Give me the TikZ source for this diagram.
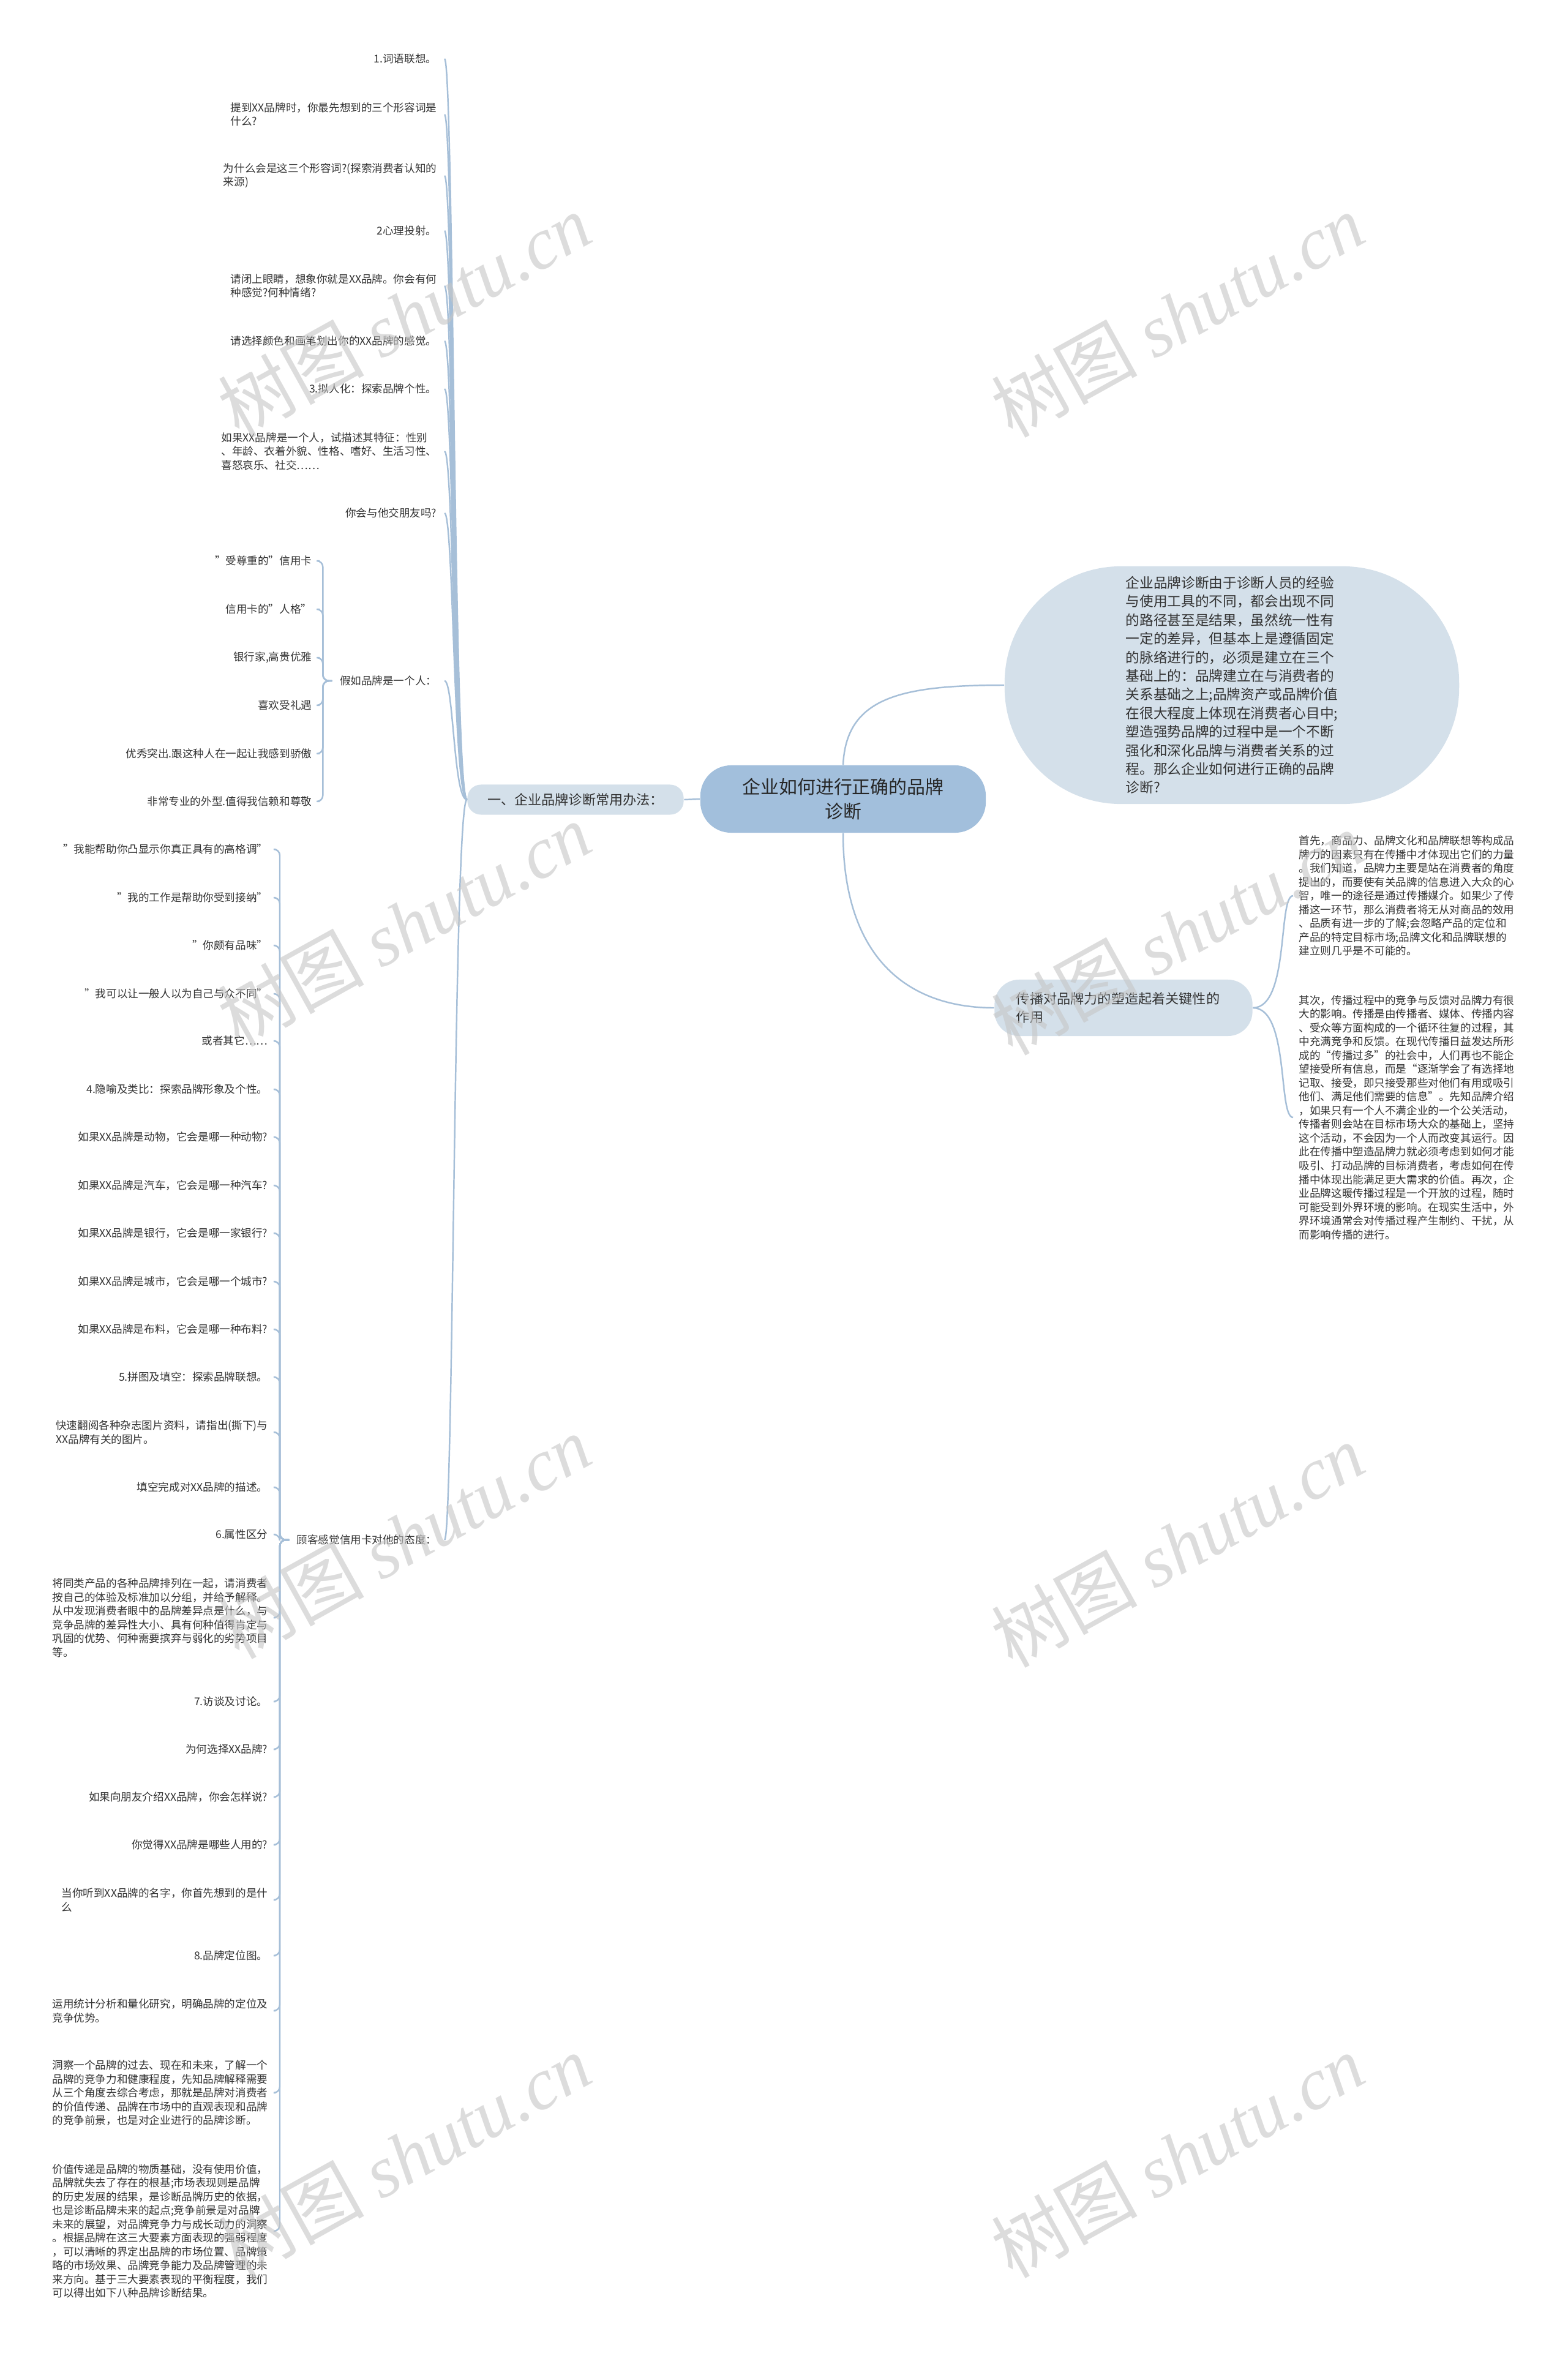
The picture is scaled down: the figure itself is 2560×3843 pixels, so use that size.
\documentclass[tikz,border=0pt]{standalone}
\usepackage{fontspec}
\setmainfont{Noto Sans CJK SC}
\newfontfamily\wmserif{Liberation Serif}

\definecolor{linkblue}{RGB}{166,191,216}
\definecolor{rootfill}{RGB}{162,191,220}
\definecolor{topicfill}{RGB}{212,224,234}
\definecolor{inkgray}{RGB}{51,51,51}

\newcommand{\leaffont}{\fontsize{5pt}{6.4pt}\selectfont}
\newcommand{\topicfont}{\fontsize{6.3pt}{8.5pt}\selectfont}
\newcommand{\bubblefont}{\fontsize{6.45pt}{8.65pt}\selectfont}
\newcommand{\rootfont}{\fontsize{8.5pt}{11.4pt}\selectfont}

\tikzset{
  link/.style={draw=linkblue, line width=0.7pt},
  leaf/.style={anchor=east, inner xsep=0.12cm, inner ysep=0.04cm, align=left, font=\leaffont, text=inkgray},
  note/.style={anchor=west, inner xsep=0.09cm, inner ysep=0.04cm, align=left, font=\leaffont, text=inkgray},
  topic/.style={fill=topicfill, rounded corners=0.22cm, inner sep=0pt, text=inkgray},
  wmark/.style={rotate=29, text=gray!45, opacity=0.6, font=\fontsize{34pt}{34pt}\selectfont}
}

\begin{document}
\begin{tikzpicture}[x=0.01cm, y=-0.01cm]
  \fill[white] (0,0) rectangle (2560,3843);
  \useasboundingbox (0,0) rectangle (2560,3843);

  % centre and main topics
  \node[fill=rootfill, rounded corners=0.5cm, minimum width=4.66cm, minimum height=1.1cm, align=center, font=\rootfont, text=black!85] (root) at (1377,1305) {企业如何进行正确的品牌\\诊断};
  \node[topic, minimum width=3.53cm, minimum height=0.49cm, font=\topicfont] (ways) at (940,1306) {一、企业品牌诊断常用办法：};
  \node[topic, rounded corners=1.9cm, minimum width=7.42cm, minimum height=3.88cm, align=left, font=\bubblefont] (intro) at (2012,1119) {企业品牌诊断由于诊断人员的经验\\与使用工具的不同，都会出现不同\\的路径甚至是结果，虽然统一性有\\一定的差异，但基本上是遵循固定\\的脉络进行的，必须是建立在三个\\基础上的：品牌建立在与消费者的\\关系基础之上;品牌资产或品牌价值\\在很大程度上体现在消费者心目中;\\塑造强势品牌的过程中是一个不断\\强化和深化品牌与消费者关系的过\\程。那么企业如何进行正确的品牌\\诊断?};
  \node[topic, rounded corners=0.4cm, minimum height=0.92cm, text width=3.5cm, inner xsep=0.355cm, align=left, font=\topicfont] (spread) at (1835,1646) {传播对品牌力的塑造起着关键性的\\作用};

  \draw[link] (root.west) -- (ways.east);
  \draw[link] (root.north) .. controls +(5,-110) and +(-170,0) .. (intro.west);
  \draw[link] (root.south) .. controls +(0,200) and +(-145,0) .. (spread.west);

  % methods
  \node[leaf] (w1) at (726,96) {1.词语联想。};
  \node[leaf] (w2) at (726,187) {提到XX品牌时，你最先想到的三个形容词是\\什么?};
  \node[leaf] (w3) at (726,287) {为什么会是这三个形容词?(探索消费者认知的\\来源)};
  \node[leaf] (w4) at (726,377) {2心理投射。};
  \node[leaf] (w5) at (726,467) {请闭上眼睛，想象你就是XX品牌。你会有何\\种感觉?何种情绪?};
  \node[leaf] (w6) at (726,557) {请选择颜色和画笔划出你的XX品牌的感觉。};
  \node[leaf] (w7) at (726,635) {3.拟人化：探索品牌个性。};
  \node[leaf] (w8) at (726,737) {如果XX品牌是一个人，试描述其特征：性别\\、年龄、衣着外貌、性格、嗜好、生活习性、\\喜怒哀乐、社交……};
  \node[leaf] (w9) at (726,838) {你会与他交朋友吗?};
  \node[leaf] (person) at (726,1112) {假如品牌是一个人：};
  \node[leaf] (attitude) at (726,2515) {顾客感觉信用卡对他的态度：};
  \foreach \c in {w1,w2,w3,w4,w5,w6,w7,w8,w9,person,attitude}
    \draw[link] (ways.west) .. controls +(-22,0) and +(15,0) .. (\c.east);

  % brand as a person
  \node[leaf] (p1) at (522,916) {"受尊重的"信用卡};
  \node[leaf] (p2) at (522,995) {信用卡的"人格"};
  \node[leaf] (p3) at (522,1074) {银行家,高贵优雅};
  \node[leaf] (p4) at (522,1152) {喜欢受礼遇};
  \node[leaf] (p5) at (522,1231) {优秀突出.跟这种人在一起让我感到骄傲};
  \node[leaf] (p6) at (522,1309) {非常专业的外型.值得我信赖和尊敬};
  \foreach \c in {p1,p2,p3,p4,p5,p6}
    \draw[link, rounded corners=0.1cm] (person.west) -- ++(-15,0) |- (\c.east);

  % attitude
  \node[leaf] (a1) at (450,1387) {"我能帮助你凸显示你真正具有的高格调"};
  \node[leaf] (a2) at (450,1466) {"我的工作是帮助你受到接纳"};
  \node[leaf] (a3) at (450,1544) {"你颇有品味"};
  \node[leaf] (a4) at (450,1623) {"我可以让一般人以为自己与众不同"};
  \node[leaf] (a5) at (450,1700) {或者其它……};
  \node[leaf] (a6) at (450,1779) {4.隐喻及类比：探索品牌形象及个性。};
  \node[leaf] (a7) at (450,1857) {如果XX品牌是动物，它会是哪一种动物?};
  \node[leaf] (a8) at (450,1936) {如果XX品牌是汽车，它会是哪一种汽车?};
  \node[leaf] (a9) at (450,2014) {如果XX品牌是银行，它会是哪一家银行?};
  \node[leaf] (a10) at (450,2093) {如果XX品牌是城市，它会是哪一个城市?};
  \node[leaf] (a11) at (450,2171) {如果XX品牌是布料，它会是哪一种布料?};
  \node[leaf] (a12) at (450,2249) {5.拼图及填空：探索品牌联想。};
  \node[leaf] (a13) at (450,2339) {快速翻阅各种杂志图片资料，请指出(撕下)与\\XX品牌有关的图片。};
  \node[leaf] (a14) at (450,2429) {填空完成对XX品牌的描述。};
  \node[leaf] (a15) at (450,2506) {6.属性区分};
  \node[leaf] (a16) at (450,2642) {将同类产品的各种品牌排列在一起，请消费者\\按自己的体验及标准加以分组，并给予解释。\\从中发现消费者眼中的品牌差异点是什么，与\\竞争品牌的差异性大小、具有何种值得肯定与\\巩固的优势、何种需要摈弃与弱化的劣势项目\\等。};
  \node[leaf] (a17) at (450,2779) {7.访谈及讨论。};
  \node[leaf] (a18) at (450,2857) {为何选择XX品牌?};
  \node[leaf] (a19) at (450,2935) {如果向朋友介绍XX品牌，你会怎样说?};
  \node[leaf] (a20) at (450,3013) {你觉得XX品牌是哪些人用的?};
  \node[leaf] (a21) at (450,3103) {当你听到XX品牌的名字，你首先想到的是什\\么};
  \node[leaf] (a22) at (450,3194) {8.品牌定位图。};
  \node[leaf] (a23) at (450,3284) {运用统计分析和量化研究，明确品牌的定位及\\竞争优势。};
  \node[leaf] (a24) at (450,3418) {洞察一个品牌的过去、现在和未来，了解一个\\品牌的竞争力和健康程度，先知品牌解释需要\\从三个角度去综合考虑，那就是品牌对消费者\\的价值传递、品牌在市场中的直观表现和品牌\\的竞争前景，也是对企业进行的品牌诊断。};
  \node[leaf] (a25) at (450,3644) {价值传递是品牌的物质基础，没有使用价值，\\品牌就失去了存在的根基;市场表现则是品牌\\的历史发展的结果，是诊断品牌历史的依据，\\也是诊断品牌未来的起点;竞争前景是对品牌\\未来的展望，对品牌竞争力与成长动力的洞察\\。根据品牌在这三大要素方面表现的强弱程度\\，可以清晰的界定出品牌的市场位置、品牌策\\略的市场效果、品牌竞争能力及品牌管理的未\\来方向。基于三大要素表现的平衡程度，我们\\可以得出如下八种品牌诊断结果。};
  \foreach \i in {1,...,25}
    \draw[link, rounded corners=0.1cm] (attitude.west) -- ++(-15,0) |- (a\i.east);

  % spreading
  \node[note] (first) at (2112,1463) {首先，商品力、品牌文化和品牌联想等构成品\\牌力的因素只有在传播中才体现出它们的力量\\。我们知道，品牌力主要是站在消费者的角度\\提出的，而要使有关品牌的信息进入大众的心\\智，唯一的途径是通过传播媒介。如果少了传\\播这一环节，那么消费者将无从对商品的效用\\、品质有进一步的了解;会忽略产品的定位和\\产品的特定目标市场;品牌文化和品牌联想的\\建立则几乎是不可能的。};
  \node[note] (second) at (2112,1825) {其次，传播过程中的竞争与反馈对品牌力有很\\大的影响。传播是由传播者、媒体、传播内容\\、受众等方面构成的一个循环往复的过程，其\\中充满竞争和反馈。在现代传播日益发达所形\\成的“传播过多”的社会中，人们再也不能企\\望接受所有信息，而是“逐渐学会了有选择地\\记取、接受，即只接受那些对他们有用或吸引\\他们、满足他们需要的信息”。先知品牌介绍\\，如果只有一个人不满企业的一个公关活动，\\传播者则会站在目标市场大众的基础上，坚持\\这个活动，不会因为一个人而改变其运行。因\\此在传播中塑造品牌力就必须考虑到如何才能\\吸引、打动品牌的目标消费者，考虑如何在传\\播中体现出能满足更大需求的价值。再次，企\\业品牌这暖传播过程是一个开放的过程，随时\\可能受到外界环境的影响。在现实生活中，外\\界环境通常会对传播过程产生制约、干扰，从\\而影响传播的进行。};
  \foreach \c in {first,second}
    \draw[link] (spread.east) .. controls +(60,0) and +(-25,0) .. (\c.west);

  % watermark
  \foreach \wx/\wy in {660/515, 1923/515, 660/1510, 1923/1524, 660/2510, 1923/2524, 660/3521, 1923/3521}
    \node[wmark] (wm-\wx-\wy) at (\wx,\wy) {树图 {\wmserif\itshape shutu.cn}};
\end{tikzpicture}
\end{document}
